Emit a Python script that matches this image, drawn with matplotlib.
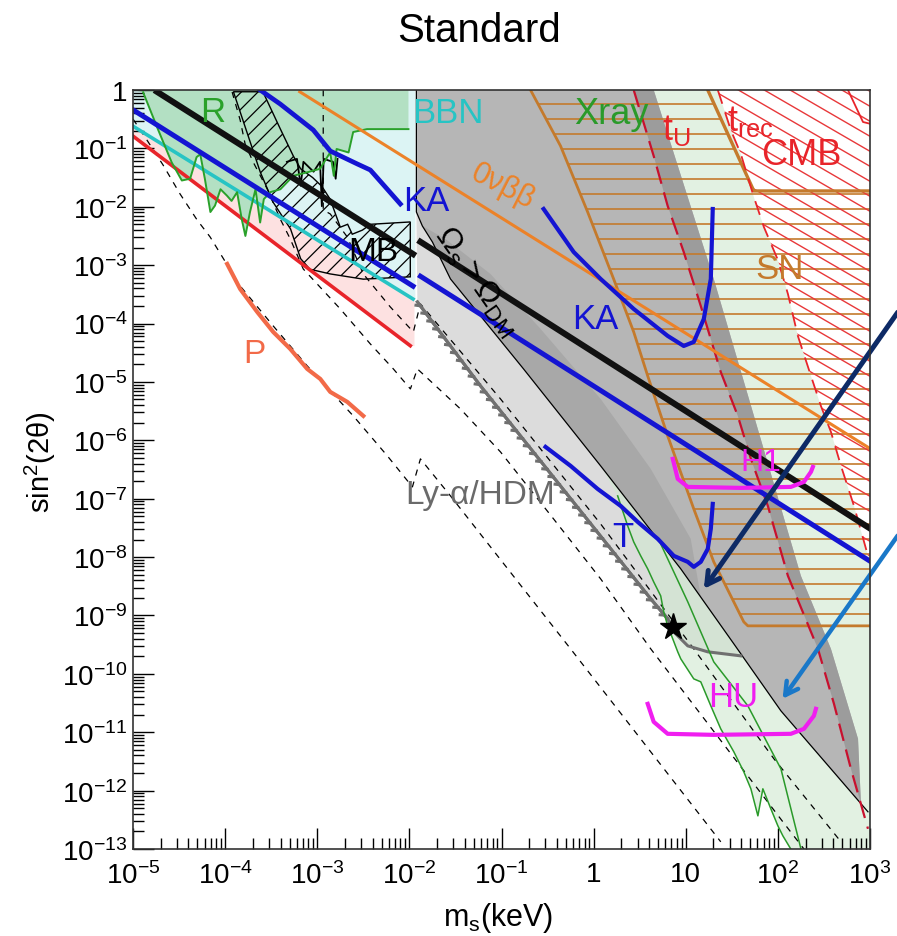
import numpy as np
import matplotlib.pyplot as plt
from matplotlib.patches import Polygon
from matplotlib.collections import LineCollection
from matplotlib.ticker import LogLocator, NullFormatter, FixedLocator, FixedFormatter
from matplotlib import patheffects as pe

plt.rcParams['font.family'] = ['Liberation Sans', 'DejaVu Sans']
plt.rcParams['mathtext.fontset'] = 'custom'
plt.rcParams['mathtext.rm'] = 'Liberation Sans'
plt.rcParams['mathtext.it'] = 'Liberation Sans:italic'
plt.rcParams['mathtext.bf'] = 'Liberation Sans:bold'
plt.rcParams['hatch.linewidth'] = 0.9

# all values are log10(m_s / keV) and log10(sin^2 2theta)

# m_s < 10 eV corner
red_lx = [-5.0, -1.99]
red_ly = [-0.79, -4.38]
bbn_lx = [-5.0, -1.96]
bbn_ly = [-0.62, -3.58]
r_lx = [-4.89, -4.73, -4.58, -4.47, -4.38, -4.31, -4.27, -4.22, -4.16, -4.11, -4.05, -3.98, -3.93, -3.87,
        -3.82, -3.78, -3.73, -3.67, -3.62, -3.58, -3.51, -3.40, -3.26, -3.11, -2.97, -2.86, -2.82, -2.79,
        -2.66, -2.61, -2.46, -2.01]
r_ly = [-0.04, -0.67, -1.24, -1.55, -1.52, -1.15, -1.10, -1.52, -2.09, -1.98, -1.70, -1.81, -1.90, -1.75,
        -2.21, -2.50, -2.09, -1.70, -2.27, -1.87, -1.75, -1.70, -1.47, -1.41, -1.35, -1.07, -1.47, -1.01,
        -1.07, -0.72, -0.67, -0.67]
mb_lx = [-3.91, -3.59, -3.40, -3.26, -3.18, -3.05, -2.95, -2.86, -2.75, -2.67, -2.62, -2.51, -2.42, -1.99,
         -1.99, -2.50, -2.86, -3.08, -3.18, -3.29, -3.48, -3.62]
mb_ly = [-0.03, -0.03, -0.67, -1.13, -1.35, -1.50, -1.65, -1.87, -2.35, -2.30, -2.47, -2.40, -2.30, -2.26,
         -3.20, -3.24, -3.15, -3.07, -2.89, -2.38, -1.92, -1.40]
spike_lx = [-3.33, -3.22, -3.18, -3.15, -3.04, -2.97, -2.95, -2.93, -2.83, -2.80, -2.78]
spike_ly = [-1.23, -1.18, -1.64, -1.23, -1.40, -1.23, -1.99, -1.18, -1.23, -1.52, -1.18]
p_lx = [-3.978, -3.837, -3.652, -3.478, -3.293, -3.109, -2.967, -2.859, -2.674, -2.500]
p_ly = [-2.979, -3.408, -3.801, -4.144, -4.435, -4.777, -4.949, -5.171, -5.342, -5.582]

# long straight limits (two pieces, broken at m_s ~ 10 eV)
om_lx = [[-4.74, -1.96], [-1.88, 3.05]]
om_ly = [[-0.03, -2.81], [-2.60, -7.56]]
ka1_lx = [[-5.0, -1.96], [-1.88, 3.05]]
ka1_ly = [[-0.34, -3.36], [-3.19, -8.12]]
onbb_lx = [-3.19, 3.05]
onbb_ly = [-0.03, -6.19]
ka3_lx = [-3.62, -3.402, -3.043, -2.859, -2.565, -2.424, -2.098]
ka3_ly = [0.0, -0.240, -0.685, -1.045, -1.267, -1.370, -1.952]
ka2_lx = [-0.543, -0.217, 0.076, 0.435, 0.804, 0.978, 1.087, 1.196, 1.272, 1.293]
ka2_ly = [-2.038, -2.774, -3.236, -3.750, -4.212, -4.384, -4.315, -3.921, -3.236, -2.038]
t_lx = [-0.522, -0.250, 0.043, 0.293, 0.478, 0.696, 0.870, 1.022, 1.087, 1.163, 1.239, 1.272, 1.293]
t_ly = [-6.113, -6.438, -6.832, -7.123, -7.397, -7.688, -7.979, -8.082, -8.168, -8.082, -7.860, -7.517, -7.089]
h1_lx = [0.859, 0.913, 1.022, 1.598, 2.141, 2.283, 2.359, 2.380]
h1_ly = [-6.318, -6.661, -6.798, -6.815, -6.798, -6.712, -6.541, -6.455]
hu_lx = [0.587, 0.652, 0.804, 1.304, 2.141, 2.283, 2.391, 2.413]
hu_ly = [-10.514, -10.822, -11.027, -11.045, -11.027, -10.942, -10.719, -10.599]

# Omega_s > Omega_DM and Ly-alpha/HDM
tb_lx = [-1.924, -1.924, -1.859, -1.750, -1.554, -0.761, 0.076, 0.946, 1.522, 2.033, 2.978]
tb_ly = [0.0, -2.089, -2.329, -2.603, -3.236, -4.777, -6.438, -8.202, -9.486, -10.634, -12.363]
gr_lx = [0.652, 1.304, 2.250, 2.576, 2.870, 2.902]
gr_ly = [0.0, -3.236, -8.322, -9.572, -11.113, -12.226]
wedge_lx = [-1.859, -1.750, -1.554, -0.761, 0.076, 0.946, 1.163, 1.054, 0.620, 0.076, -0.576, -1.120, -1.609]
wedge_ly = [-2.329, -2.603, -3.236, -4.777, -6.438, -8.202, -8.680, -7.688, -6.490, -5.291, -4.092, -3.151,
            -2.551]
lya_lx = [-1.913, -1.228, 0.620, 0.804, 0.870, 1.022, 1.239, 1.598]
lya_ly = [-3.630, -5.068, -8.716, -9.058, -9.281, -9.521, -9.623, -9.692]
star_lx, star_ly = 0.859, -9.195

# t_U, t_rec, SN, CMB
tu_lx = [0.435, 0.652, 0.804, 0.978, 1.163, 1.380, 1.565, 1.707, 1.891, 2.109, 2.435, 2.609, 2.793, 2.978]
tu_ly = [0.0, -1.130, -1.986, -2.774, -3.699, -4.829, -5.582, -6.318, -7.123, -8.322, -9.572, -10.514,
         -11.627, -12.654]
trec_lx = [1.348, 1.489, 1.598, 1.739, 1.848, 2.000, 2.109, 2.217, 2.359, 2.467, 2.576, 2.685, 2.826, 2.978]
trec_ly = [0.0, -0.685, -1.096, -1.832, -2.346, -2.911, -3.493, -4.212, -4.897, -5.411, -5.856, -6.438,
           -7.123, -7.979]
sn_lx = [-0.685, -0.359, -0.065, 0.217, 0.435, 0.587, 0.804, 1.087, 1.304, 1.630, 1.674, 3.0, 3.0, 1.739, 1.239]
sn_ly = [0.0, -0.959, -2.089, -3.236, -4.144, -4.897, -5.925, -7.175, -8.082, -9.110, -9.178, -9.178,
         -1.729, -1.729, 0.0]
cmb_tri_lx = [2.761, 2.924, 3.011]
cmb_tri_ly = [0.0, -0.548, -0.582]

# X-ray
xr_lx = [0.261, 0.370, 0.435, 0.511, 0.587, 0.652, 0.728, 0.761, 0.804, 0.859, 0.913, 0.946, 1.087, 1.163,
         1.272, 1.380, 1.522, 1.630, 1.707, 1.783, 1.837, 1.924, 2.000, 2.054, 2.140]
xr_ly = [-6.952, -7.466, -7.740, -7.979, -8.202, -8.425, -8.664, -8.938, -9.178, -9.401, -9.623, -9.743,
         -10.086, -10.137, -10.548, -10.942, -11.336, -11.678, -11.969, -12.432, -11.969, -12.312, -12.603,
         -12.774, -13.0]
xr2_lx = [0.728, 1.022, 1.304, 1.674, 2.033, 2.250]
xr2_ly = [-7.774, -8.767, -9.795, -10.548, -11.627, -12.997]

# guide lines (dashed)
da_lx = [-5.0, -4.870, -4.674, -4.489, -4.304, -4.163, -3.837, -3.478, -3.109, -2.609, -2.239, -1.967, -1.880,
         -1.554, -1.043, -0.250, 1.380]
da_ly = [-0.497, -0.805, -1.284, -1.781, -2.226, -2.517, -3.356, -4.041, -4.726, -5.582, -6.267, -6.798,
         -6.318, -6.952, -7.979, -9.572, -12.877]
db_lx = [-3.924, -3.837, -3.783, -3.696, -3.543, -3.402, -3.293, -3.152, -2.750, -2.424, -2.174, -1.989,
         -1.913, -1.446, -1.011, -0.435, 0.076, 0.620, 2.054, 2.283]
db_ly = [-0.034, -0.514, -0.925, -1.233, -1.695, -2.209, -2.551, -3.065, -3.750, -4.349, -4.777, -5.120,
         -4.777, -5.462, -6.199, -7.346, -8.373, -9.572, -12.534, -13.0]
dc_lx = [-2.935, -2.935, -2.859, -2.674, -2.500, -2.207, -1.957, -1.880, -1.011, 0.076, 1.087, 1.957, 2.685]
dc_ly = [0.0, -2.055, -2.123, -2.517, -3.151, -3.716, -4.144, -3.664, -5.291, -7.432, -9.572, -11.455, -12.877]

xticks_exp = list(range(-5, 4))
xtick_labels = [r'$10^{-5}$', r'$10^{-4}$', r'$10^{-3}$', r'$10^{-2}$', r'$10^{-1}$', '1', '10',
                r'$10^{2}$', r'$10^{3}$']
yticks_exp = list(range(-13, 1))
ytick_labels = [r'$10^{%d}$' % e for e in range(-13, 0)] + ['1']


def E(a):
    return 10.0 ** np.asarray(a, dtype=float)


def poly(lx, ly, **kw):
    p = Polygon(np.column_stack([E(lx), E(ly)]), closed=True, **kw)
    ax.add_patch(p)
    return p


def line(lx, ly, **kw):
    return ax.plot(E(lx), E(ly), **kw)


def hatch_lines(patch, slope, step, offset, color, lw, z):
    cs = offset + step * np.arange(-120, 120)
    segs = [[(0, c), (1, c + slope)] for c in cs]
    lc = LineCollection(segs, colors=color, linewidths=lw, transform=ax.transAxes, zorder=z)
    lc.set_clip_path(patch)
    ax.add_collection(lc, autolim=False)


fig = plt.figure(figsize=(8.97, 9.37), dpi=100)
ax = fig.add_axes([133 / 897, 87 / 937, 737 / 897, 759 / 937])
ax.set_xscale('log')
ax.set_yscale('log')
ax.set_xlim(1e-5, 1e3)
ax.set_ylim(1e-13, 1)

# --- filled regions ---
xray_poly_lx = xr_lx + [3.0, 3.0] + trec_lx[::-1] + [0.076, 0.076]
xray_poly_ly = xr_ly + [-13.0, trec_ly[-1]] + trec_ly[::-1] + [0.0, -6.438]
lb_lx = [tb_lx[1]] + lya_lx + tb_lx[8:1:-1]
lb_ly = [tb_ly[1]] + lya_ly + tb_ly[8:1:-1]
poly(lb_lx, lb_ly, facecolor='#dcdcdc', edgecolor='none', zorder=1.0)
poly(xray_poly_lx, xray_poly_ly, facecolor='#cfe9cf', edgecolor='none', alpha=0.6, zorder=1.1)

g1_lx = tb_lx[:10] + [gr_lx[-1]] + gr_lx[-2::-1]
g1_ly = tb_ly[:10] + [gr_ly[-1]] + gr_ly[-2::-1]
poly(g1_lx, g1_ly, facecolor='#b6b6b6', edgecolor='none', zorder=1.5)
poly(wedge_lx, wedge_ly, facecolor='#a8a8a8', edgecolor='none', zorder=1.55)
band_lx = tu_lx[:13] + [gr_lx[-1]] + gr_lx[-2::-1]
band_ly = tu_ly[:13] + [gr_ly[-1]] + gr_ly[-2::-1]
poly(band_lx, band_ly, facecolor='#9c9c9c', edgecolor='none', zorder=1.6)

xs = np.linspace(-5.0, -1.95, 50)
ax.fill_between(E(xs), E(np.interp(xs, red_lx, red_ly)), E(np.interp(xs, bbn_lx, bbn_ly)),
                color='#fde1e1', lw=0, zorder=1.2)
poly(bbn_lx + [-1.935, -1.935, -5.0], bbn_ly + [-3.60, 0.0, 0.0], facecolor='#dcf4f4', edgecolor='none',
     zorder=1.25)
poly([-5.0] + r_lx + [-2.01, -5.0], [0.0] + r_ly + [0.0, 0.0], facecolor='#b3e0c3', edgecolor='none',
     zorder=1.3)

sn_patch = poly(sn_lx, sn_ly, facecolor='none', edgecolor='none', zorder=2.0)
hatch_lines(sn_patch, 0.0, 15 / 759, 0.982, '#c47a2c', 1.2, 2.0)
cmb_patch = poly(trec_lx + [3.0, 3.0], trec_ly + [-7.979, 0.0], facecolor='none', edgecolor='none', zorder=2.0)
hatch_lines(cmb_patch, -0.563, 15 / 759, 0.0, '#e8383a', 1.0, 2.0)

poly(mb_lx, mb_ly, facecolor='none', edgecolor='black', hatch='//', lw=1.0, zorder=2.2)
line(spike_lx, spike_ly, color='black', lw=1.3, zorder=2.3)

# --- lines ---
dash = dict(color='black', lw=0.9, ls=(0, (5, 5)), zorder=2.5)
line(da_lx, da_ly, **dash)
line(db_lx, db_ly, **dash)
line(dc_lx, dc_ly, **dash)

line(tb_lx, tb_ly, color='black', lw=0.9, zorder=2.6)
line(lya_lx[:4], lya_ly[:4], color='#707070', lw=2.2, zorder=2.6,
     path_effects=[pe.Stroke(), pe.withTickedStroke(angle=-135, spacing=7, length=0.45)])
line(lya_lx[3:], lya_ly[3:], color='#707070', lw=2.2, zorder=2.6)

line(red_lx, red_ly, color='#e8242a', lw=2.6, zorder=3)
line(bbn_lx, bbn_ly, color='#27c4c4', lw=2.6, zorder=3)
line(r_lx, r_ly, color='#2aa12a', lw=1.4, zorder=3)
line(xr_lx, xr_ly, color='#2a9a2a', lw=1.1, zorder=3)
line(xr2_lx, xr2_ly, color='#2a9a2a', lw=1.1, zorder=3)

line(sn_lx[:11] + [3.0], sn_ly[:11] + [-9.178], color='#c47a2c', lw=2.0, zorder=3)
line(sn_lx[-1:-4:-1], sn_ly[-1:-4:-1], color='#c47a2c', lw=2.4, zorder=3)
line(trec_lx, trec_ly, color='#e8242a', lw=1.3, ls=(0, (8, 5)), zorder=3)
line(cmb_tri_lx, cmb_tri_ly, color='#e8242a', lw=1.3, zorder=3)
line(tu_lx, tu_ly, color='#c8102e', lw=1.6, ls=(0, (8, 4)), zorder=3)

line(onbb_lx, onbb_ly, color='#ec8228', lw=2.2, zorder=3.2)
line(p_lx, p_ly, color='#f26a48', lw=3.0, zorder=3.2)
for lx, ly in zip(ka1_lx, ka1_ly):
    line(lx, ly, color='#1414d2', lw=3.6, zorder=3.3)
line(ka3_lx, ka3_ly, color='#1414d2', lw=3.4, zorder=3.3)
line(ka2_lx, ka2_ly, color='#1414d2', lw=3.0, zorder=3.3)
line(t_lx, t_ly, color='#1414d2', lw=3.0, zorder=3.3)
for lx, ly in zip(om_lx, om_ly):
    line(lx, ly, color='#111111', lw=4.4, zorder=3.4)
line(h1_lx, h1_ly, color='#f01ef0', lw=3.0, zorder=3.5)
line(hu_lx, hu_ly, color='#f01ef0', lw=3.0, zorder=3.5)
ax.plot(E(star_lx), E(star_ly), marker='*', ms=20, color='black', zorder=4)


# --- labels ---
def lab(lx, ly, s, color, size, rot=0, **kw):
    ax.text(E(lx), E(ly), s, color=color, fontsize=size, rotation=rot, ha='center', va='center',
            zorder=5, **kw)


lab(-4.14, -0.36, 'R', '#2aa12a', 25)
lab(-1.58, -0.38, 'BBN', '#27c4c4', 25)
lab(0.19, -0.40, 'Xray', '#2a9a2a', 26)
lab(0.90, -0.68, r'$\mathrm{t}_{\mathrm{U}}$', '#e8242a', 26)
lab(1.70, -0.52, r'$\mathrm{t}_{\mathrm{rec}}$', '#e8242a', 26)
lab(2.25, -1.10, 'CMB', '#e8242a', 26)
lab(2.02, -3.06, 'SN', '#c47a2c', 25)
lab(-1.815, -1.90, 'KA', '#1414d2', 25)
lab(0.022, -3.92, 'KA', '#1414d2', 25)
lab(-0.99, -1.64, '0νββ', '#ec8228', 22, rot=-27)
lab(-2.39, -2.76, 'MB', 'black', 24)
lab(-1.27, -3.26, r'$\Omega_{\mathrm{s}}>\Omega_{\mathrm{DM}}$', 'black', 23, rot=-55)
lab(-1.228, -6.92, 'Ly-α/HDM', '#6a6a6a', 24)
lab(0.315, -7.65, 'T', '#1414d2', 25)
lab(1.815, -6.37, 'H1', '#f01ef0', 23)
lab(1.511, -10.38, 'HU', '#f01ef0', 25)
lab(-3.685, -4.52, 'P', '#f26a48', 24)

# arrows out of the frame
ax.annotate('', xy=(E(1.196), E(-8.545)), xytext=(E(3.301), E(-3.807)), annotation_clip=False,
            arrowprops=dict(arrowstyle='->,head_length=0.9,head_width=0.5', color='#0d2a66', lw=3.6,
                            shrinkA=0, shrinkB=0), zorder=6)
ax.annotate('', xy=(E(2.051), E(-10.428)), xytext=(E(3.301), E(-7.632)), annotation_clip=False,
            arrowprops=dict(arrowstyle='->,head_length=0.9,head_width=0.5', color='#1a78c8', lw=3.2,
                            shrinkA=0, shrinkB=0), zorder=6)

# --- axes ---
ax.xaxis.set_major_locator(FixedLocator(E(xticks_exp)))
ax.xaxis.set_major_formatter(FixedFormatter(xtick_labels))
ax.yaxis.set_major_locator(FixedLocator(E(yticks_exp)))
ax.yaxis.set_major_formatter(FixedFormatter(ytick_labels))
ax.xaxis.set_minor_locator(LogLocator(base=10, subs=np.arange(2, 10), numticks=100))
ax.yaxis.set_minor_locator(LogLocator(base=10, subs=np.arange(2, 10), numticks=100))
ax.xaxis.set_minor_formatter(NullFormatter())
ax.yaxis.set_minor_formatter(NullFormatter())
ax.tick_params(which='major', direction='in', length=15, width=1.0, top=False, right=False, labelsize=20)
ax.tick_params(which='minor', direction='in', length=8, width=1.0, top=False, right=False)
ax.tick_params(axis='x', which='major', pad=9)
ax.tick_params(axis='y', which='major', pad=4)
for s in ax.spines.values():
    s.set_linewidth(1.2)
    s.set_color('#333333')
    s.set_zorder(7)

fig.text(479 / 897, 1 - 31 / 937, 'Standard', fontsize=29, ha='center', va='center')
fig.text(498 / 897, 1 - 918 / 937, r'm$_{\mathrm{s}}$(keV)', fontsize=22, ha='center', va='center')
fig.text(40 / 897, 1 - 462 / 937, r'sin$^{2}$(2θ)', fontsize=21, ha='center', va='center', rotation=90)

fig.savefig('out.png', dpi=100)
